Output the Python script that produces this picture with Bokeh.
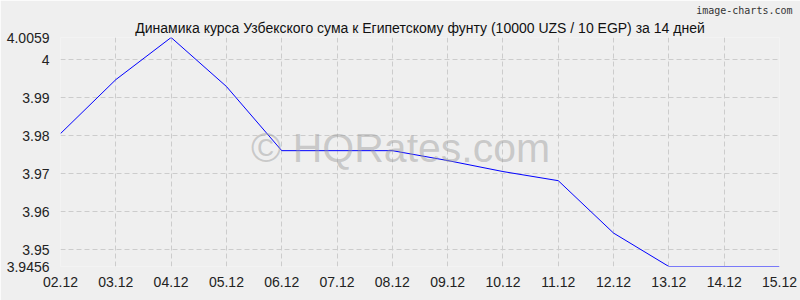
from bokeh.plotting import figure
from bokeh.models import Range1d, FixedTicker, Label, Title
from bokeh.embed import file_html
from bokeh.resources import INLINE

dates = ["02.12", "03.12", "04.12", "05.12", "06.12", "07.12", "08.12",
         "09.12", "10.12", "11.12", "12.12", "13.12", "14.12", "15.12"]
rates = [3.9806, 3.9948, 4.0059, 3.9930, 3.9761, 3.9761, 3.9761,
         3.9735, 3.9706, 3.9682, 3.9544, 3.9456, 3.9456, 3.9456]
y_ticks = [3.9456, 3.95, 3.96, 3.97, 3.98, 3.99, 4.0, 4.0059]
y_labels = ["3.9456", "3.95", "3.96", "3.97", "3.98", "3.99", "4", "4.0059"]
title = "Динамика курса Узбекского сума к Египетскому фунту (10000 UZS / 10 EGP) за 14 дней"

FONT = "Liberation Sans"
BG = "#efefef"

xs = list(range(len(dates)))
p = figure(width=800, height=300, output_backend="svg", toolbar_location=None,
           x_range=Range1d(0, len(dates) - 1), y_range=Range1d(min(y_ticks), max(y_ticks)),
           min_border_left=60, min_border_right=21, min_border_top=37, min_border_bottom=34)
p.background_fill_color = BG
p.border_fill_color = BG
p.outline_line_color = None

# outermost: small credit text
p.title.text = "image-charts.com"
p.title.text_font = "DejaVu Sans Mono"
p.title.text_font_size = "10px"
p.title.text_font_style = "normal"
p.title.text_color = "#333333"
p.title.align = "right"
p.title.offset = -13
p.title.standoff = 0

# closest to the frame: main title
p.add_layout(Title(text=title, text_font=FONT, text_font_size="14px",
                   text_font_style="normal", text_color="#111111",
                   align="center", offset=-19, standoff=4), "above")

for ax in (p.xaxis, p.yaxis):
    ax.axis_line_color = None
    ax.major_tick_line_color = None
    ax.minor_tick_line_color = None
    ax.major_tick_out = 0
    ax.major_tick_in = 0
    ax.minor_tick_out = 0
    ax.minor_tick_in = 0
    ax.major_label_text_font = FONT
    ax.major_label_text_font_size = "14px"
    ax.major_label_text_color = "#222222"

p.xaxis.ticker = FixedTicker(ticks=xs)
p.xaxis.major_label_overrides = {i: d for i, d in enumerate(dates)}
p.xaxis.major_label_standoff = 10
p.yaxis.ticker = FixedTicker(ticks=y_ticks)
p.yaxis.major_label_overrides = {t: l for t, l in zip(y_ticks, y_labels)}
p.yaxis.major_label_standoff = 11

for g in (p.xgrid, p.ygrid):
    g.grid_line_color = "#cccccc"
    g.grid_line_dash = "5 3"
    g.grid_line_width = 1

p.line(xs, rates, line_color="#0000ff", line_width=1)

p.add_layout(Label(x=6.15, y=3.9767, text="© HQRates.com", text_font=FONT,
                   text_font_size="41px", text_color="#999999", text_alpha=0.45,
                   text_align="center", text_baseline="middle"))

open("out.html", "w").write(file_html(p, INLINE))
